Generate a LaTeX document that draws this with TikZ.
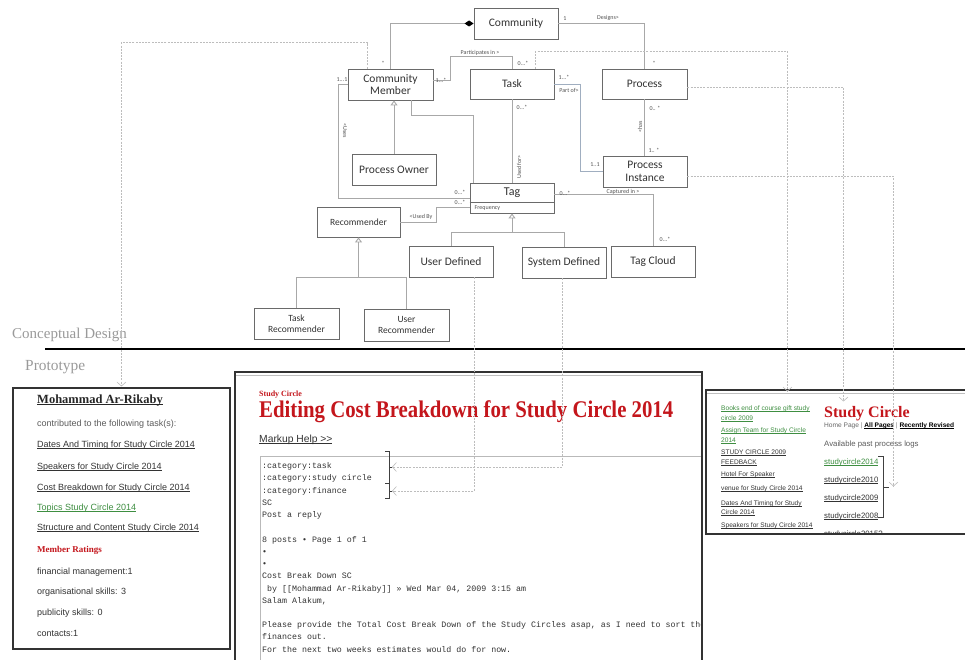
\documentclass[tikz,border=0pt]{standalone}
\usepackage{fontspec}
\setmainfont{Liberation Serif}
\newfontfamily\umlf{Carlito}
\newfontfamily\arialf{Liberation Sans}
\newfontfamily\monof{Liberation Mono}
\usetikzlibrary{arrows.meta,calc}
\definecolor{boxc}{HTML}{6A6A6A}
\definecolor{linec}{HTML}{A8A8A8}
\definecolor{dashc}{HTML}{BDBDBD}
\definecolor{bluel}{HTML}{A0AEC0}
\definecolor{webred}{HTML}{C4161C}
\definecolor{webgreen}{HTML}{3E8E41}
\definecolor{graytxt}{HTML}{9A9A9A}
\definecolor{txt}{HTML}{333333}
\tikzset{
 umlbox/.style={draw=boxc, line width=0.9pt, fill=white, inner sep=1pt, align=center, font=\umlf\fontsize{11.5}{12.5}\selectfont, text=txt},
 smallbox/.style={umlbox, font=\umlf\fontsize{9.5}{11}\selectfont},
 umlline/.style={draw=linec, line width=0.9pt},
 lbl/.style={font=\umlf\fontsize{6}{6}\selectfont, text=txt!85, inner sep=0.5pt},
 traceline/.style={draw=dashc, line width=0.6pt, dash pattern=on 2pt off 1.2pt, -{Straight Barb[length=4pt,width=9pt]}},
 panel/.style={draw=black!80, line width=1.1pt, inner sep=0},
 lptxt/.style={anchor=base west, inner sep=0, font=\arialf\fontsize{9}{9}\selectfont, text=txt},
 mono/.style={anchor=base west, inner sep=0, font=\monof\fontsize{8.3}{8.3}\selectfont, text=black!80},
 rptxt/.style={anchor=base west, inner sep=0, font=\arialf\fontsize{6.6}{6.6}\selectfont, text=txt},
 sctxt/.style={anchor=base west, inner sep=0, font=\arialf\fontsize{7.8}{7.8}\selectfont, text=txt},
 gen/.style={umlline, -{Triangle[open, length=5pt, width=7pt]}},
}
\newcommand{\ulg}[1]{\setbox0\hbox{#1}\rlap{\rule[-1.3pt]{\wd0}{0.55pt}}\box0}
\begin{document}
\begin{tikzpicture}[x=1pt,y=-1pt]
\useasboundingbox (0,0) rectangle (965,660);
\fill[white] (0,0) rectangle (965,660);

% ---------- UML classes ----------
\node[umlbox, minimum width=84, minimum height=31] (comm) at (516,23.5) {Community};
\node[umlbox, minimum width=85, minimum height=31] (cm) at (390.5,84.5) {Community\\Member};
\node[umlbox, minimum width=84, minimum height=30] (task) at (512,84) {Task};
\node[umlbox, minimum width=85, minimum height=30] (proc) at (644.5,84) {Process};
\node[umlbox, minimum width=84, minimum height=31] (powner) at (394,169.5) {Process Owner};
\node[umlbox, minimum width=84, minimum height=31] (pinst) at (645,171.5) {Process\\Instance};
\node[umlbox, minimum width=84, minimum height=30] (tag) at (512,198) {};
\node[font=\umlf\fontsize{12}{12}\selectfont, text=txt, inner sep=0] (tagtxt) at (512,192.5) {Tag};
\draw[boxc, line width=0.7pt] (tag.west |- 0,202) -- (tag.east |- 0,202);
\node[lbl, anchor=west] (freq) at (474,208) {Frequency};
\node[smallbox, minimum width=83, minimum height=30] (rec) at (358.5,222) {Recommender};
\node[umlbox, minimum width=84, minimum height=31] (udef) at (451,261.5) {User Defined};
\node[umlbox, minimum width=84, minimum height=31] (sdef) at (564,262.5) {System Defined};
\node[umlbox, minimum width=84, minimum height=31] (tcloud) at (653,261.5) {Tag Cloud};
\node[smallbox, minimum width=85, minimum height=31] (trec) at (296.5,323.5) {Task\\Recommender};
\node[smallbox, minimum width=85, minimum height=32] (urec) at (406.5,325) {User\\Recommender};

% ---------- UML connectors ----------
\draw[umlline, -{Diamond[length=9pt,width=6pt,color=black,fill=black]}] (cm.north) |- (comm.west);
\draw[umlline] (comm.east) -| (proc.north);
\draw[umlline] ($(cm.east)+(0,-4)$) -- ++(17,0) |- ($(task.north)+(0,-12)$) -- (task.north);
\draw[draw=bluel, line width=0.9pt] (task.east) -- ++(26,0) |- (pinst.west);
\draw[umlline] (proc.south) -- (proc.south |- pinst.north);
\draw[umlline] (task.south) -- (tag.north);
\draw[umlline] ($(cm.south)+(20.5,0)$) -- ++(0,15) -| ($(tag.north west)+(4,0)$);
\draw[umlline] (cm.west) -- ++(-9,0) |- (tag.west);
\draw[umlline] ($(tag.west)+(0,9)$) -- ++(-33,0) |- (rec.east);
\draw[umlline] ($(tag.east)+(0,-4)$) -| (tcloud.north);
\coordinate (tj) at ($(tag.south)+(0,19)$);
\draw[umlline] (udef.north) |- (tj);
\draw[umlline] (sdef.north) |- (tj);
\draw[gen] (tj) -- (tag.south);
\coordinate (rj) at ($(rec.south)+(0,40)$);
\draw[umlline] (trec.north) |- (rj);
\draw[umlline] (urec.north) |- (rj);
\draw[gen] (rj) -- (rec.south);
\draw[gen] (powner.north) -- (powner.north |- cm.south);

% ---------- UML labels ----------
\node[lbl] (l1) at (383,63) {*};
\node[lbl] (l2) at (565,19) {1};
\node[lbl] (l3) at (608,18) {Designs>};
\node[lbl] (l4) at (654,63) {*};
\node[lbl] (l5) at (480,53) {Participates in >};
\node[lbl] (l6) at (523,63) {0...*};
\node[lbl] (l7) at (441,80) {1...*};
\node[lbl] (l8) at (342,80) {1...1};
\node[lbl] (l9) at (564,77) {1...*};
\node[lbl] (l10) at (569,90) {Part of>};
\node[lbl] (l11) at (522,107) {0...*};
\node[lbl] (l12) at (655,108) {0.. *};
\node[lbl, rotate=90] (l13) at (640,127) {<has};
\node[lbl, rotate=-90] (l14) at (345,131) {<Uses};
\node[lbl, rotate=90] (l15) at (519,167) {Used for>};
\node[lbl] (l16) at (654,150) {1.. *};
\node[lbl] (l17) at (595,165) {1..1};
\node[lbl] (l18) at (460,192) {0...*};
\node[lbl] (l19) at (565,193) {0...*};
\node[lbl] (l20) at (623,192) {Captured in >};
\node[lbl] (l21) at (460,202) {0...*};
\node[lbl] (l22) at (421,217) {<Used By};
\node[lbl] (l23) at (665,239) {0...*};

% ---------- section labels ----------
\draw[black, line width=1.1pt] (45,349) -- (965,349);
\node[anchor=base west, inner sep=0, text=graytxt, font=\fontsize{15}{15}\selectfont] (cd) at (12,338) {Conceptual Design};
\node[anchor=base west, inner sep=0, text=graytxt, font=\fontsize{15.4}{15.4}\selectfont] (pt) at (25,370) {Prototype};

% ---------- left panel ----------
\node[panel, minimum width=217, minimum height=261] (lp) at (121.5,518.5) {};
\node[anchor=base west, inner sep=0, text=black!85, font=\fontsize{12.5}{12.5}\selectfont\bfseries] (mname) at (37,403.5) {\ulg{Mohammad Ar-Rikaby}};
\node[lptxt, text=txt!80] (lc) at (37,426) {contributed to the following task(s):};
\node[lptxt] (lt1) at (37,447) {\ulg{Dates And Timing for Study Circle 2014}};
\node[lptxt] (lt2) at (37,469) {\ulg{Speakers for Study Circle 2014}};
\node[lptxt] (lt3) at (37,490) {\ulg{Cost Breakdown for Study Circle 2014}};
\node[lptxt, text=webgreen] (lt4) at (37,510) {\ulg{Topics Study Circle 2014}};
\node[lptxt] (lt5) at (37,530) {\ulg{Structure and Content Study Circle 2014}};
\node[anchor=base west, inner sep=0, text=webred, font=\fontsize{9}{9}\selectfont\bfseries] (mr) at (37,552.5) {Member Ratings};
\node[lptxt] (lr1) at (37,574) {financial management:1};
\node[lptxt] (lr2) at (37,594) {organisational skills: 3};
\node[lptxt] (lr3) at (37,615) {publicity skills: 0};
\node[lptxt] (lr4) at (37,636) {contacts:1};

% ---------- middle panel ----------
\node[panel, minimum width=467, minimum height=308] (mp) at (468.5,526) {};
\draw[gray!50, line width=0.8pt] (236,375) -- (701,375);
\begin{scope}
\clip (236,373) rectangle (701,660);
\draw[gray!55, line width=0.8pt] (260,670) -- (260,456) -- (701,456);
\node[anchor=base west, inner sep=0, text=webred, font=\fontsize{8}{8}\selectfont\bfseries] (msc) at (259,396) {Study Circle};
\node[anchor=base west, inner sep=0, text=webred, font=\fontsize{20.8}{20.8}\selectfont\bfseries] (mtitle) at (259,417) {\scalebox{1}[1.15]{Editing Cost Breakdown for Study Circle 2014}};
\node[anchor=base west, inner sep=0, text=txt, font=\arialf\fontsize{10.3}{10.3}\selectfont] (mh) at (259,442.5) {\ulg{Markup Help >>}};
\node[mono] (m1) at (262,468) {:category:task};
\node[mono] (m2) at (262,480) {:category:study circle};
\node[mono] (m3) at (262,493) {:category:finance};
\node[mono] (m4) at (262,505) {SC};
\node[mono] (m5) at (262,517) {Post a reply};
\node[mono] (m6) at (262,542) {8 posts • Page 1 of 1};
\node[mono] (m7) at (262,554) {•};
\node[mono] (m8) at (262,566) {•};
\node[mono] (m9) at (262,578) {Cost Break Down SC};
\node[mono] (m10) at (262,591) {\ by [[Mohammad Ar-Rikaby]] » Wed Mar 04, 2009 3:15 am};
\node[mono] (m11) at (262,603) {Salam Alakum,};
\node[mono] (m12) at (262,627) {Please provide the Total Cost Break Down of the Study Circles asap, as I need to sort the};
\node[mono] (m13) at (262,639) {finances out.};
\node[mono] (m14) at (262,652) {For the next two weeks estimates would do for now.};
\end{scope}
% bracket in middle panel
\draw[black!75, line width=0.9pt] (385,451) -- (389,451) -- (389,498) -- (385,498);
\draw[black!75, line width=0.9pt] (385,483) -- (389,483);
\draw[black!75, line width=0.9pt] (389,467) -- (392,467);
\draw[black!75, line width=0.9pt] (389,491) -- (392,491);
\coordinate (b1) at (392,467);
\coordinate (b2) at (392,491);

% ---------- right panel ----------
\node[panel, minimum width=274, minimum height=144] (rp) at (843,462) {};
\draw[gray!50, line width=0.8pt] (707,393) -- (965,393);
\begin{scope}
\clip (707,391) rectangle (965,533);
\node[rptxt, text=webgreen] (r1) at (721,410.5) {\ulg{Books end of course gift study}};
\node[rptxt, text=webgreen] (r2) at (721,420.5) {\ulg{circle 2009}};
\node[rptxt, text=webgreen] (r3) at (721,432.5) {\ulg{Assign Team for Study Circle}};
\node[rptxt, text=webgreen] (r4) at (721,442.5) {\ulg{2014}};
\node[rptxt] (r5) at (721,454.5) {\ulg{STUDY CIRCLE 2009}};
\node[rptxt] (r6) at (721,464.5) {\ulg{FEEDBACK}};
\node[rptxt] (r7) at (721,476.5) {\ulg{Hotel For Speaker}};
\node[rptxt] (r8) at (721,490.5) {\ulg{venue for Study Circle 2014}};
\node[rptxt] (r9) at (721,505.5) {\ulg{Dates And Timing for Study}};
\node[rptxt] (r10) at (721,514.5) {\ulg{Circle 2014}};
\node[rptxt] (r11) at (721,527.5) {\ulg{Speakers for Study Circle 2014}};
\node[anchor=base west, inner sep=0, text=webred, font=\fontsize{16}{16}\selectfont\bfseries] (rtitle) at (824,417) {Study Circle};
\node[rptxt, text=txt!75] (rnav) at (824,427.5) {Home Page \textcolor{gray}{|} \textcolor{black}{\bfseries\ulg{All Pages}} \textcolor{gray}{|} \textcolor{black}{\bfseries\ulg{Recently Revised}}};
\node[sctxt, text=txt!80] (rav) at (824,446) {Available past process logs};
\node[sctxt, text=webgreen] (s1) at (824,464) {\ulg{studycircle2014}};
\node[sctxt] (s2) at (824,482) {\ulg{studycircle2010}};
\node[sctxt] (s3) at (824,500) {\ulg{studycircle2009}};
\node[sctxt] (s4) at (824,518) {\ulg{studycircle2008}};
\node[sctxt] (s5) at (824,536) {\ulg{studycircle2015?}};
\end{scope}
\draw[black!75, line width=0.9pt] (878,456) -- (883,456) -- (883,517) -- (878,517);
\draw[black!75, line width=0.9pt] (883,487) -- (889,487);

% ---------- trace links ----------
\draw[traceline] ($(cm.north west)+(20,0)$) -- ++(0,-26) -| ($(lp.north west)+(109,-1)$);
\draw[traceline] ($(task.north east)+(-19,0)$) -- ++(0,-17) -| ($(rp.north west)+(82,2)$);
\draw[traceline] ($(proc.east)+(0,3)$) -| ($(rp.north west)+(138,12)$);
\draw[traceline] ($(pinst.east)+(0,5)$) -| ($(rp.north west)+(188,97)$);
\draw[traceline] ($(udef.south)+(23,0)$) |- (b2);
\draw[traceline] ($(sdef.south)+(-2,0)$) |- (b1);
\end{tikzpicture}
\end{document}
